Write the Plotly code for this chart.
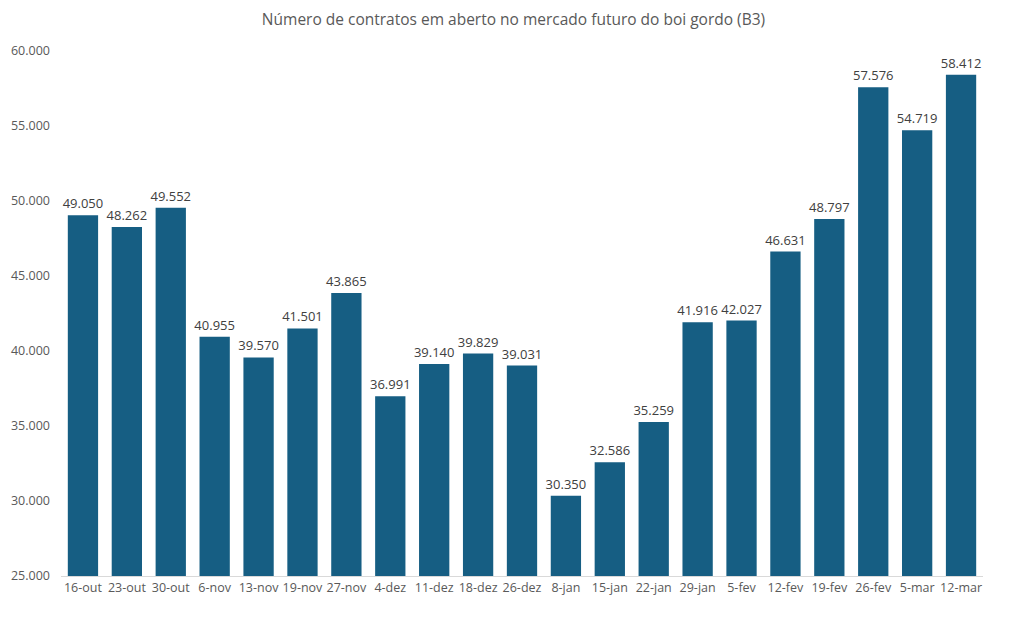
import plotly.graph_objects as go

categories = ["16-out", "23-out", "30-out", "6-nov", "13-nov", "19-nov", "27-nov", "4-dez",
              "11-dez", "18-dez", "26-dez", "8-jan", "15-jan", "22-jan", "29-jan", "5-fev",
              "12-fev", "19-fev", "26-fev", "5-mar", "12-mar"]
values = [49050, 48262, 49552, 40955, 39570, 41501, 43865, 36991, 39140, 39829, 39031,
          30350, 32586, 35259, 41916, 42027, 46631, 48797, 57576, 54719, 58412]
tick_vals = [25000, 30000, 35000, 40000, 45000, 50000, 55000, 60000]

fig = go.Figure(go.Bar(
    x=categories, y=values,
    marker=dict(color="#165E83", line=dict(width=0)),
    texttemplate="%{y:,d}", textposition="outside", cliponaxis=False,
    constraintext="none",
    textfont=dict(family="Open Sans", size=13, color="#404040"),
))
fig.update_layout(
    width=1011, height=629,
    separators=",.",
    paper_bgcolor="white", plot_bgcolor="white",
    margin=dict(l=53, r=36, t=43, b=61),
    title=dict(text="Número de contratos em aberto no mercado futuro do boi gordo (B3)",
               x=0.5, xanchor="center", y=0.981, yanchor="middle",
               font=dict(family="Liberation Sans Narrow, Open Sans", size=15.5, color="#595959")),
    bargap=0.31,
    showlegend=False,
)
fig.update_xaxes(showline=True, linecolor="#D9D9D9", linewidth=1, ticks="",
                 tickfont=dict(family="Open Sans", size=12.5, color="#595959"), showgrid=False)
fig.update_yaxes(range=[25000, 60000], tickvals=tick_vals, tickformat=",d", showgrid=False,
                 zeroline=False, showline=False, ticks="", ticklabelstandoff=10,
                 automargin=False,
                 tickfont=dict(family="Open Sans", size=12.5, color="#595959"))
fig.write_html("out.html")
